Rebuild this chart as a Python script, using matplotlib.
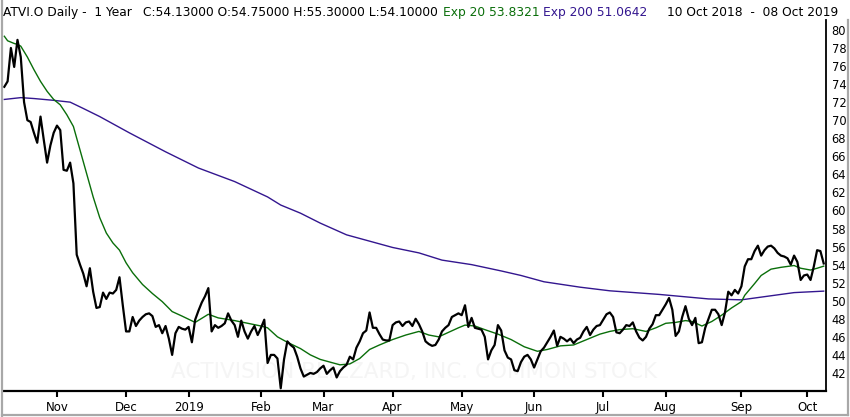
import matplotlib
matplotlib.use("Agg")
import matplotlib.pyplot as plt
from matplotlib.lines import Line2D

# ---- data (trading-day index 0 = 10 Oct 2018, 249 = 08 Oct 2019) ----
close = [
    73.7, 74.3, 78.0, 75.9, 78.9, 77.0, 72.0, 70.0, 69.8, 68.6,
    67.5, 70.4, 67.8, 65.3, 67.2, 68.6, 69.4, 68.9, 64.5, 64.4,
    65.3, 63.0, 55.1, 54.0, 53.0, 51.6, 53.6, 51.0, 49.2, 49.3,
    50.9, 50.2, 50.9, 50.8, 51.2, 52.6, 49.5, 46.6, 46.6, 48.2,
    47.2, 47.8, 48.2, 48.5, 48.6, 48.3, 47.1, 47.3, 46.4, 47.2,
    45.8, 44.0, 46.4, 47.1, 46.9, 46.8, 47.1, 45.4, 47.9, 48.9,
    49.8, 50.5, 51.4, 46.6, 47.3, 47.0, 47.2, 47.5, 48.6, 47.8,
    47.3, 46.0, 47.8, 46.6, 45.8, 46.6, 47.2, 46.2, 47.0, 47.9,
    43.1, 44.0, 44.0, 43.6, 40.3, 43.5, 45.5, 45.1, 44.8, 43.8,
    42.5, 41.6, 41.8, 42.0, 41.9, 42.1, 42.5, 42.8, 41.9, 42.3,
    42.6, 41.5, 42.2, 42.6, 42.9, 43.8, 43.5, 44.8, 45.5, 46.4,
    46.7, 48.7, 47.0, 47.0, 46.3, 45.7, 45.6, 45.6, 47.3, 47.6,
    47.7, 47.2, 47.6, 47.7, 47.2, 48.0, 47.4, 46.6, 45.5, 45.2,
    45.0, 45.1, 45.7, 46.6, 47.0, 47.3, 48.2, 48.4, 48.6, 48.4,
    49.5, 47.1, 48.1, 47.0, 46.9, 46.8, 46.0, 43.5, 44.5, 45.1,
    47.3, 46.7, 44.5, 43.7, 43.5, 42.3, 42.2, 43.2, 43.8, 44.0,
    43.5, 42.6, 43.5, 44.4, 44.8, 45.4, 46.0, 46.7, 45.0, 46.0,
    45.8, 45.5, 45.8, 45.3, 45.7, 45.9, 46.6, 47.1, 46.2, 46.8,
    47.2, 47.3, 47.9, 48.5, 48.7, 48.2, 46.5, 46.4, 46.8, 47.3,
    47.2, 47.6, 46.6, 45.9, 45.6, 46.0, 46.9, 47.4, 48.4, 48.4,
    49.0, 49.6, 50.3, 49.0, 46.1, 46.6, 48.2, 49.4, 48.0, 47.3,
    48.1, 45.3, 45.4, 47.0, 48.0, 49.0, 49.0, 48.5, 47.3, 48.7,
    51.0, 50.6, 51.2, 50.8, 51.6, 53.8, 54.6, 54.6, 55.5, 56.1,
    55.0, 55.6, 56.0, 56.1, 55.8, 55.3, 55.0, 54.9, 54.7, 54.0,
    55.0, 54.3, 52.3, 52.8, 52.9, 52.3, 53.8, 55.6, 55.5, 54.13,
]
day = list(range(len(close)))

ema20_day = [0, 1, 3, 4, 5, 7, 9, 11, 13, 15, 17, 19, 21, 23, 25, 27, 29, 31, 33, 35,
             37, 39, 42, 45, 48, 51, 54, 58, 62, 65, 70, 74, 78, 80, 83, 86, 90, 93, 96, 99,
             102, 105, 108, 111, 114, 118, 122, 126, 129, 132, 135, 138, 140, 143, 146, 150,
             154, 158, 162, 165, 169, 173, 177, 181, 184, 187, 191, 195, 198, 201, 204, 207,
             209, 212, 215, 218, 221, 224, 225, 228, 230, 233, 236, 240, 242, 245, 247, 249]
ema20_val = [79.3, 78.8, 78.5, 78.4, 78.2, 77.0, 75.6, 74.3, 73.2, 72.3, 71.7, 70.6, 69.3, 66.7,
             64.1, 61.5, 59.2, 57.5, 56.4, 55.6, 54.2, 53.1, 51.8, 50.8, 49.9, 48.8, 48.3, 47.6,
             48.5, 48.1, 47.8, 47.5, 47.2, 47.0, 46.0, 45.4, 44.7, 44.0, 43.5, 43.2, 42.9, 43.0,
             43.6, 44.6, 45.1, 45.7, 46.2, 46.6, 46.2, 46.0, 46.5, 47.0, 47.3, 47.2, 46.8, 46.3,
             45.7, 44.9, 44.4, 44.6, 45.0, 45.1, 45.7, 46.3, 46.6, 46.8, 46.9, 46.6, 47.0, 47.5,
             47.6, 47.8, 47.7, 47.2, 47.7, 48.4, 49.2, 49.9, 50.6, 51.9, 52.8, 53.5, 53.7, 53.9,
             53.6, 53.4, 53.6, 53.83]

ema200_day = [0, 5, 9, 15, 20, 24, 29, 38, 49, 59, 70, 80, 84, 90, 96, 104, 110, 118, 126,
              133, 142, 151, 157, 164, 175, 184, 199, 214, 224, 230, 240, 249]
ema200_val = [72.3, 72.5, 72.4, 72.2, 72.0, 71.3, 70.4, 68.6, 66.5, 64.7, 63.2, 61.5, 60.6,
              59.7, 58.6, 57.3, 56.7, 55.9, 55.3, 54.5, 54.0, 53.3, 52.8, 52.1, 51.5, 51.1,
              50.7, 50.2, 50.1, 50.4, 50.9, 51.0642]

month_day = [16, 37, 56, 78, 97, 118, 139, 161, 182, 201, 224, 244]
month_lbl = ["Nov", "Dec", "2019", "Feb", "Mar", "Apr", "May", "Jun", "Jul", "Aug", "Sep", "Oct"]
y_ticks = list(range(42, 81, 2))

title_main = "ATVI.O Daily -  1 Year"
title_ohlc = "C:54.13000 O:54.75000 H:55.30000 L:54.10000"
title_e20 = "Exp 20 53.8321"
title_e200 = "Exp 200 51.0642"
title_range = "10 Oct 2018  -  08 Oct 2019"
watermark = "ACTIVISION BLIZZARD, INC. COMMON STOCK"

GREEN = "#0a6e0a"
PURPLE = "#33168f"

W, H = 850, 417
fig = plt.figure(figsize=(W / 100, H / 100), dpi=100)
fig.patch.set_facecolor("white")
ax = fig.add_axes([3 / W, 26 / H, 823 / W, 371 / H])
ax.set_facecolor("white")

ax.text(0.4994, 0.051, watermark, transform=ax.transAxes, ha="center", va="center",
        fontsize=15.5, color="#f5f5f5", zorder=0)

ax.plot(ema200_day, ema200_val, color=PURPLE, lw=1.0, zorder=2)
ax.plot(ema20_day, ema20_val, color=GREEN, lw=1.0, zorder=3)
ax.plot(day, close, color="black", lw=1.6, zorder=4)

ax.set_xlim(-0.4, 249.7)
ax.set_ylim(40.0, 81.1)

for s in ["top", "left"]:
    ax.spines[s].set_visible(False)
ax.spines["bottom"].set_linewidth(1.6)
ax.spines["right"].set_linewidth(1.3)

ax.set_xticks(month_day)
ax.set_xticklabels(month_lbl)
ax.tick_params(axis="x", direction="out", length=4.5, width=1.5, pad=3,
               labelsize=8.5, colors="black")
ax.yaxis.tick_right()
ax.set_yticks(y_ticks)
ax.set_yticklabels([str(v) for v in y_ticks])
ax.tick_params(axis="y", length=0, pad=4, labelsize=8.3, colors="black")

ty = 1 - 16 / H
fs = 8.8
fig.text(3 / W, ty, title_main, fontsize=fs, color="black", va="baseline")
fig.text(143 / W, ty, title_ohlc, fontsize=fs, color="black", va="baseline")
fig.text(443 / W, ty, title_e20, fontsize=fs, color=GREEN, va="baseline")
fig.text(543 / W, ty, title_e200, fontsize=fs, color=PURPLE, va="baseline")
fig.text(667 / W, ty, title_range, fontsize=fs, color="black", va="baseline")

border = "#a8a8a8"
fig.add_artist(Line2D([2 / W, 2 / W], [1.5 / H, 1], transform=fig.transFigure, color=border, lw=1.6))
fig.add_artist(Line2D([2 / W, 847.5 / W], [2.5 / H, 2.5 / H], transform=fig.transFigure, color=border, lw=1.6))
fig.add_artist(Line2D([847.5 / W, 847.5 / W], [2.5 / H, 1 - 20 / H], transform=fig.transFigure, color=border, lw=1.6))

fig.savefig("out.png", dpi=100, facecolor="white")
